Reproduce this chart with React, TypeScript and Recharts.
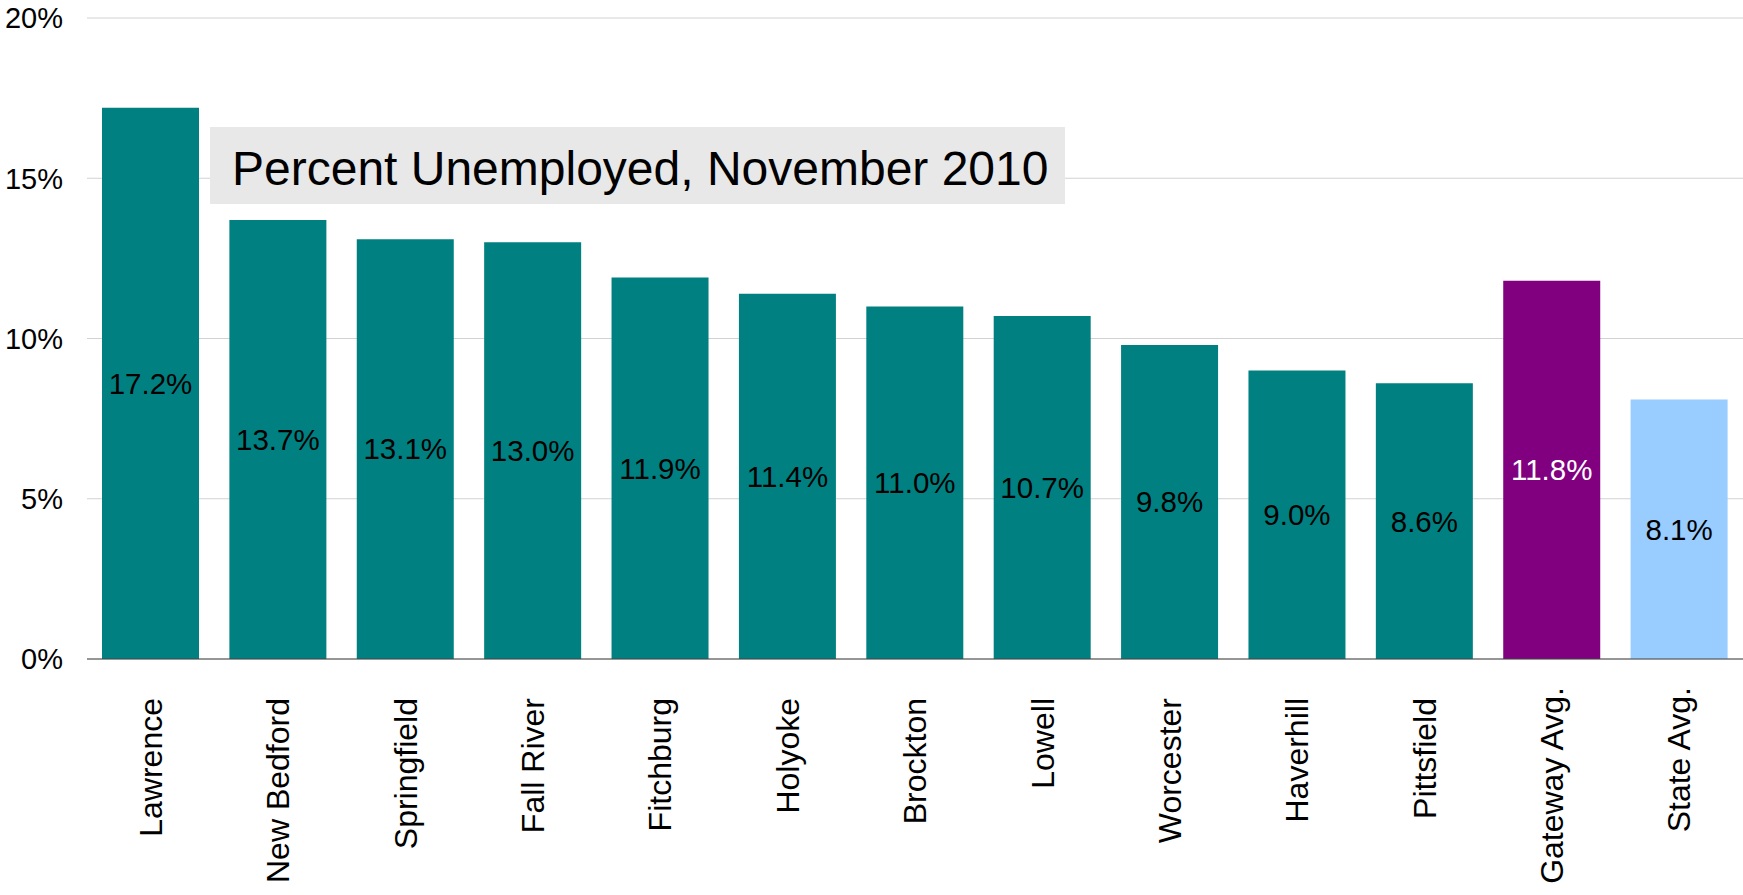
import { BarChart, Bar, XAxis, YAxis, CartesianGrid, Cell, LabelList } from 'recharts'

const CITIES = [
  'Lawrence',
  'New Bedford',
  'Springfield',
  'Fall River',
  'Fitchburg',
  'Holyoke',
  'Brockton',
  'Lowell',
  'Worcester',
  'Haverhill',
  'Pittsfield',
  'Gateway Avg.',
  'State Avg.',
]

const RATES = [17.2, 13.7, 13.1, 13.0, 11.9, 11.4, 11.0, 10.7, 9.8, 9.0, 8.6, 11.8, 8.1]

const Y_TICKS = [0, 5, 10, 15, 20]

const TITLE = 'Percent Unemployed, November 2010'

const FONT = '"Liberation Sans", Arial, Helvetica, sans-serif'
const TEAL = '#008080'
const PURPLE = '#800080'
const LIGHT_BLUE = '#99ccff'

function barColor(name: string) {
  if (name === 'Gateway Avg.') return PURPLE
  if (name === 'State Avg.') return LIGHT_BLUE
  return TEAL
}

const chartData = CITIES.map((name, i) => ({ name, rate: RATES[i] }))

function CityTick(props: any) {
  const { x, payload } = props
  // the two average labels sit a little higher in the original
  const y = String(payload.value).endsWith('.') ? props.y - 11 : props.y
  return (
    <text
      x={x}
      y={y}
      transform={`rotate(-90, ${x}, ${y})`}
      textAnchor="end"
      dy="0.35em"
      fontSize={32}
      fontFamily={FONT}
      fill="#000"
    >
      {payload.value}
    </text>
  )
}

function RateLabel(props: any) {
  const { x, y, width, height, value, index } = props
  const name = CITIES[index]
  return (
    <text
      x={x + width / 2}
      y={y + height / 2}
      dy="0.35em"
      textAnchor="middle"
      fontSize={29.5}
      fontFamily={FONT}
      fill={name === 'Gateway Avg.' ? '#fff' : '#000'}
    >
      {Number(value).toFixed(1)}%
    </text>
  )
}

export default function App() {
  return (
    <div style={{ position: 'absolute', left: 0, top: 0, width: 1743, height: 895, background: '#fff' }}>
      <BarChart
        width={1743}
        height={895}
        data={chartData}
        margin={{ top: 18, right: 0, bottom: 0, left: 0 }}
        barCategoryGap={15}
      >
        <CartesianGrid vertical={false} stroke="#d2d2d2" strokeWidth={1} />
        <XAxis
          dataKey="name"
          interval={0}
          height={236}
          tickSize={0}
          tickMargin={39}
          tickLine={false}
          axisLine={{ stroke: '#444', strokeWidth: 1.2 }}
          tick={<CityTick />}
        />
        <YAxis
          domain={[0, 20]}
          ticks={Y_TICKS}
          width={87}
          tickSize={0}
          tickMargin={24}
          axisLine={false}
          tickLine={false}
          tickFormatter={(v: number) => `${v}%`}
          tick={{ fill: '#000', fontSize: 29, fontFamily: FONT }}
        />
        <Bar dataKey="rate" isAnimationActive={false}>
          {chartData.map((d) => (
            <Cell key={d.name} fill={barColor(d.name)} />
          ))}
          <LabelList dataKey="rate" content={<RateLabel />} />
        </Bar>
      </BarChart>
      <div
        style={{
          position: 'absolute',
          left: 210,
          top: 127,
          width: 855,
          height: 77,
          background: '#e8e8e8',
          fontFamily: FONT,
          fontSize: 48,
          lineHeight: '77px',
          paddingLeft: 22,
          paddingTop: 3,
          boxSizing: 'border-box',
          color: '#000',
          whiteSpace: 'nowrap',
        }}
      >
        {TITLE}
      </div>
    </div>
  )
}
